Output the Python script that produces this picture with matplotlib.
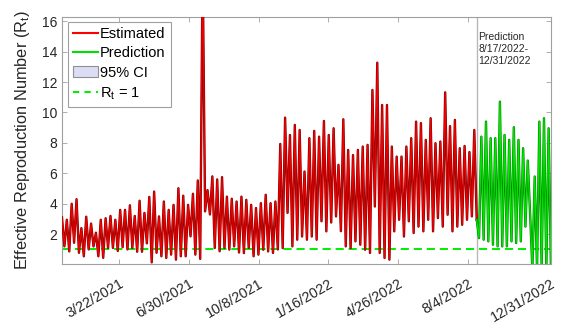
import numpy as np
import matplotlib
matplotlib.use('Agg')
import matplotlib.pyplot as plt
import matplotlib.patheffects as pe
from matplotlib.lines import Line2D
from matplotlib.patches import Patch

plt.rcParams['font.family'] = ['Liberation Sans', 'DejaVu Sans']

# estimated Rt: weekly peak / trough pairs (day 0 = 1/1/2021)
est_peaks = [3.1, 2.95, 4.0, 4.3, 2.4, 3.15, 2.7, 2.1, 2.95, 3.05,
             3.2, 2.95, 3.6, 3.6, 3.9, 3.2, 4.2, 3.4, 4.45, 4.8,
             3.17, 4.15, 3.6, 3.93, 5.02, 4.53, 3.93, 4.66, 5.53, 20.0,
             4.9, 5.8, 5.6, 5.75, 4.47, 4.33, 4.15, 4.47, 4.26, 3.93, 3.72,
             4.04, 4.59, 4.04, 4.15, 7.93, 9.66, 8.52, 9.18, 8.85, 6.12,
             8.31, 8.79, 8.41, 9.44, 8.52, 8.96, 6.56, 9.55, 7.54, 7.2,
             7.54, 7.76, 7.87, 11.48, 13.27, 10.49, 10.49, 7.76, 7.1, 7.1,
             7.76, 8.31, 9.4, 9.3, 8.2, 9.62, 7.98, 8.09, 11.32, 9.1,
             9.51, 7.65, 7.8, 7.4, 8.85]
est_troughs = [1.2, 0.87, 1.44, 0.78, 0.55, 1.0, 1.2, 0.55, 0.45, 1.1,
               1.1, 0.9, 1.15, 1.0, 1.1, 0.85, 0.85, 1.4, 0.15, 0.78,
               0.55, 0.44, 0.66, 0.33, 0.55, 0.55, 1.86, 0.66, 0.38, 3.5,
               3.3, 1.1, 0.88, 1.1, 0.99, 1.2, 0.8, 0.76, 1.1, 0.55, 0.66,
               0.98, 0.87, 0.77, 1.0, 1.09, 3.4, 1.2, 1.64, 1.85, 1.64,
               1.85, 1.64, 2.85, 2.19, 2.77, 3.17, 2.2, 1.2, 1.09, 1.53,
               1.31, 0.98, 0.77, 3.82, 0.77, 0.44, 0.33, 2.19, 2.95, 1.85,
               2.85, 2.08, 2.5, 2.19, 2.95, 2.19, 3.06, 2.5, 3.28, 2.19,
               2.5, 2.62, 2.95, 3.17, 2.95]

# prediction 8/17/2022 onward (alternating trough / peak)
pred_vals = [2.95, 1.75, 8.41, 1.64, 9.4, 1.53, 8.31, 1.31, 8.31, 1.2,
             10.71, 1.2, 8.52, 1.2, 8.2, 1.53, 9.03, 1.42, 8.2, 1.53,
             7.65, 2.5, 6.84, 3.39, -0.3, 5.79, -0.3, 9.4, -0.3, 9.62,
             -0.3, 8.96, -0.3]

start_day = -2.5
pred_start = 593     # 8/17/2022
end_day = 699.6

tick_days = [80, 180, 280, 380, 480, 580, end_day]
tick_labels = ['3/22/2021', '6/30/2021', '10/8/2021', '1/16/2022',
               '4/26/2022', '8/4/2022', '12/31/2022']

est = np.column_stack([est_peaks, est_troughs]).ravel()
est_x = np.linspace(start_day, pred_start, len(est))
pred_x = np.linspace(pred_start, end_day, len(pred_vals))

fig = plt.figure(figsize=(5.67, 3.25), dpi=100)
ax = fig.add_axes([0.1093, 0.188, 0.8624, 0.761])

ax.axvline(pred_start, color='#b8b8b8', lw=1.0, zorder=1)
ax.axhline(1, color='#00ee00', lw=1.4, dashes=(4.2, 2.5), zorder=2)

ax.plot(est_x, est, color='#f00000', lw=0.9, zorder=3,
        path_effects=[pe.Stroke(linewidth=1.7, foreground='#800000'), pe.Normal()])
ax.plot(pred_x, pred_vals, color='#00e600', lw=0.9, zorder=3,
        path_effects=[pe.Stroke(linewidth=1.7, foreground='#008000'), pe.Normal()])

ax.text(pred_start + 2, 15.3, 'Prediction\n8/17/2022-\n12/31/2022',
        fontsize=7.5, va='top', ha='left', color='#262626', linespacing=1.25)

ax.set_xlim(start_day, end_day)
ax.set_ylim(0.05, 16.3)
ax.set_yticks([2, 4, 6, 8, 10, 12, 14, 16])
ax.set_xticks(tick_days)
ax.set_xticklabels(tick_labels, rotation=30, ha='right', rotation_mode='anchor')
ax.tick_params(direction='in', length=3.5, width=0.6, colors='#a0a0a0',
               labelcolor='#262626', labelsize=10, top=True, right=True)
ax.tick_params(axis='x', pad=9, labelsize=10.3)
for s in ax.spines.values():
    s.set_color('#a0a0a0')
    s.set_linewidth(0.8)

ax.set_ylabel('Effective Reproduction Number (R$_\\mathregular{t}$)',
              fontsize=11.8, color='#262626', labelpad=7)

handles = [Line2D([], [], color='#ff0000', lw=1.5),
           Line2D([], [], color='#00e000', lw=1.5),
           Patch(facecolor='#dcdcf5', edgecolor='#909090', lw=0.8),
           Line2D([], [], color='#00ee00', lw=1.5, dashes=(3, 2.5))]
leg = ax.legend(handles, ['Estimated', 'Prediction', '95% CI', 'R$_\\mathregular{t}$ = 1'],
                loc='upper left', bbox_to_anchor=(0.012, 0.978), borderaxespad=0,
                fontsize=10.5, fancybox=False, framealpha=1, edgecolor='#a0a0a0',
                handlelength=1.75, handletextpad=0.12, labelspacing=0.36,
                borderpad=0.35)
leg.get_frame().set_linewidth(0.8)

fig.savefig('out.png', dpi=100)
